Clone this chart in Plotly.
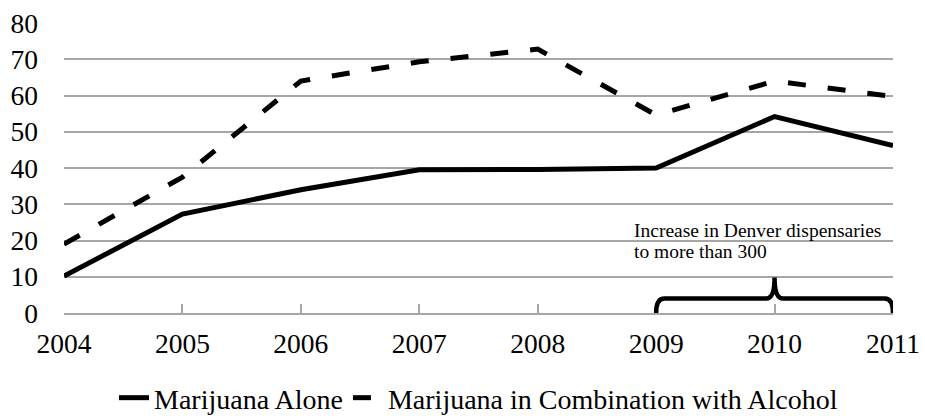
import plotly.graph_objects as go

years = [2004, 2005, 2006, 2007, 2008, 2009, 2010, 2011]
marijuana_alone = [10.2, 27.3, 34.0, 39.5, 39.6, 40.0, 54.2, 46.2]
marijuana_with_alcohol = [19.0, 37.5, 64.0, 69.3, 72.8, 54.6, 64.0, 59.7]
y_ticks = [0, 10, 20, 30, 40, 50, 60, 70, 80]

# bracket spanning the dispensary expansion period
bracket_start, bracket_mid, bracket_end = 2009, 2010, 2011
bracket_level, bracket_tip = 4.0, 9.8
note_lines = ["Increase in Denver dispensaries", "to more than 300"]

SERIF = "Liberation Serif, Times New Roman, serif"
GRID = "#a6a6a6"

fig = go.Figure()
fig.add_trace(go.Scatter(
    x=years, y=marijuana_alone, mode="lines", name="Marijuana Alone",
    line=dict(color="black", width=5),
))
fig.add_trace(go.Scatter(
    x=years, y=marijuana_with_alcohol, mode="lines",
    name="Marijuana in Combination with Alcohol",
    line=dict(color="black", width=5, dash="18px,22px"),
))

# curly bracket drawn as an SVG path in data coordinates
c = 0.07
h = 0.0
path = (
    f"M {bracket_start},{h} "
    f"Q {bracket_start},{bracket_level} {bracket_start + c},{bracket_level} "
    f"L {bracket_mid - c},{bracket_level} "
    f"Q {bracket_mid},{bracket_level} {bracket_mid},{bracket_tip} "
    f"Q {bracket_mid},{bracket_level} {bracket_mid + c},{bracket_level} "
    f"L {bracket_end - c},{bracket_level} "
    f"Q {bracket_end},{bracket_level} {bracket_end},{h}"
)
fig.add_shape(type="path", path=path, xref="x", yref="y",
              line=dict(color="black", width=4.5), layer="above")

for i, txt in enumerate(note_lines):
    fig.add_annotation(
        x=2008.80, y=22.7 - i * 5.7, xref="x", yref="y", text=txt,
        showarrow=False, xanchor="left", yanchor="middle",
        font=dict(family=SERIF, size=19.5, color="black"),
    )

fig.update_xaxes(
    range=[2004, 2011], tickmode="array", tickvals=years,
    ticktext=[str(y) for y in years],
    showgrid=False, zeroline=False, automargin=False,
    showline=True, linecolor=GRID, linewidth=1.5,
    ticks="inside", ticklen=9, tickcolor=GRID, tickwidth=1.5,
    tickfont=dict(family=SERIF, size=27.5, color="black"),
    ticklabelstandoff=5,
)
fig.update_yaxes(
    range=[0, 80], tickmode="array", tickvals=y_ticks,
    showgrid=True, gridcolor=GRID, gridwidth=1.5,
    zeroline=False, showline=False, ticks="", automargin=False,
    tickfont=dict(family=SERIF, size=27.5, color="black"),
    ticklabelstandoff=25,
)

fig.update_layout(
    width=925, height=416,
    margin=dict(l=64, r=32, t=23, b=103, autoexpand=False),
    paper_bgcolor="white", plot_bgcolor="white",
    showlegend=True,
    legend=dict(
        orientation="h", x=0.5, xanchor="center", y=-0.293, yanchor="middle",
        font=dict(family=SERIF, size=28, color="black"),
        itemwidth=30, tracegroupgap=0,
    ),
)

fig.write_html("out.html")
